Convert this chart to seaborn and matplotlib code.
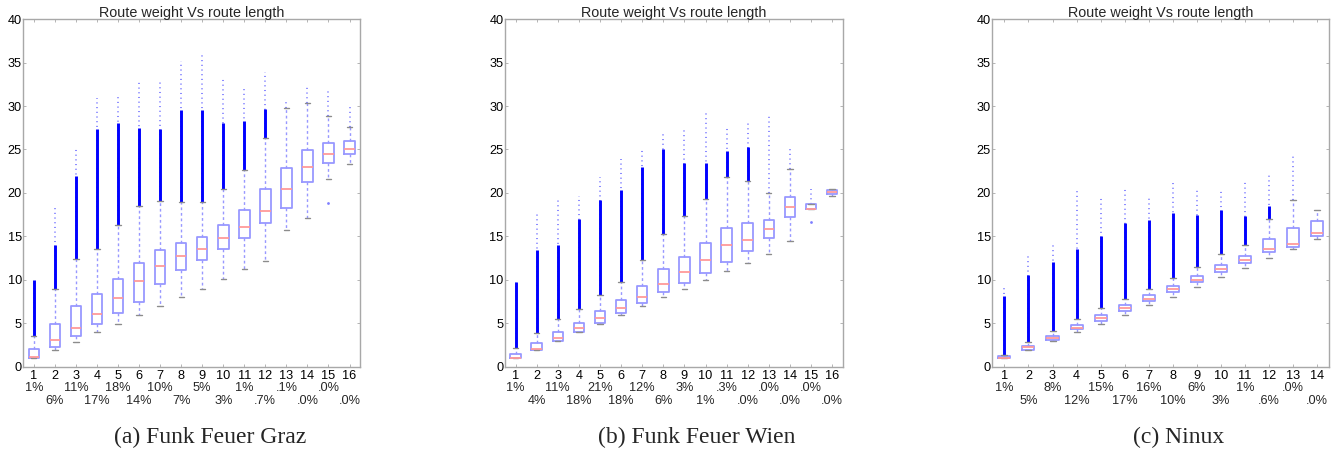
import numpy as np
import pandas as pd
import matplotlib
matplotlib.use("Agg")
import matplotlib.pyplot as plt
import seaborn as sns

# ---------------- data ----------------
# (a) Funk Feuer Graz
graz_pct = ["1%", "6%", "11%", "17%", "18%", "14%", "10%", "7%", "5%", "3%", "1%", ".7%", ".1%", ".0%", ".0%", ".0%"]
graz_whislo = [1.0, 1.9, 2.9, 3.95, 4.9, 5.9, 7.0, 8.0, 9.0, 10.05, 11.2, 12.2, 15.7, 17.1, 21.6, 23.3]
graz_q1 = [1.0, 2.25, 3.5, 4.9, 6.15, 7.45, 9.5, 11.15, 12.25, 13.5, 14.8, 16.5, 18.3, 21.3, 23.4, 24.5]
graz_med = [1.15, 3.05, 4.4, 6.05, 7.9, 9.85, 11.55, 12.7, 13.5, 14.8, 16.1, 17.9, 20.5, 23.0, 24.45, 25.1]
graz_q3 = [2.0, 4.9, 7.0, 8.35, 10.15, 11.9, 13.4, 14.25, 14.9, 16.3, 18.0, 20.4, 22.9, 24.9, 25.7, 26.0]
graz_whishi = [3.5, 8.9, 12.4, 13.6, 16.3, 18.5, 19.1, 18.9, 19.0, 20.5, 22.6, 26.3, 29.75, 30.3, 28.9, 27.6]
graz_dense_top = [10.0, 14.0, 22.0, 27.4, 28.0, 27.5, 27.4, 29.5, 29.5, 28.0, 28.3, 29.6, 29.75, 30.3, 28.9, 27.6]
graz_max = [10.0, 18.4, 25.3, 30.9, 31.2, 32.8, 33.0, 35.2, 36.0, 33.3, 32.1, 33.9, 30.5, 32.3, 31.8, 30.0]
graz_low_x = [15]
graz_low_y = [18.8]

# (b) Funk Feuer Wien
wien_pct = ["1%", "4%", "11%", "18%", "21%", "18%", "12%", "6%", "3%", "1%", ".3%", ".0%", ".0%", ".0%", ".0%", ".0%"]
wien_whislo = [1.0, 1.95, 2.92, 3.95, 4.91, 5.95, 6.99, 7.98, 8.94, 9.98, 11.0, 11.98, 12.97, 14.47, 18.12, 19.6]
wien_q1 = [1.0, 1.95, 2.92, 4.03, 5.07, 6.14, 7.29, 8.56, 9.6, 10.75, 12.1, 13.3, 14.78, 17.27, 18.12, 19.85]
wien_med = [1.02, 2.07, 3.3, 4.41, 5.57, 6.72, 7.98, 9.48, 10.86, 12.25, 14.0, 14.55, 15.8, 18.35, 18.2, 20.1]
wien_q3 = [1.42, 2.69, 3.95, 5.07, 6.37, 7.68, 9.33, 11.2, 12.67, 14.2, 15.93, 16.5, 16.9, 19.5, 18.73, 20.35]
wien_whishi = [2.1, 3.92, 5.45, 6.6, 8.25, 9.79, 12.25, 15.24, 17.4, 19.3, 21.8, 21.35, 20.0, 22.76, 18.73, 20.5]
wien_dense_top = [9.8, 13.4, 14.0, 17.0, 19.2, 20.3, 23.0, 25.0, 23.5, 23.5, 24.8, 25.3, 20.0, 22.76, 18.73, 20.5]
wien_max = [9.8, 17.7, 19.3, 19.6, 21.8, 23.9, 25.0, 26.9, 27.5, 29.4, 27.6, 28.2, 28.8, 25.0, 20.5, 20.5]
wien_low_x = [15]
wien_low_y = [16.6]

# (c) Ninux
ninux_pct = ["1%", "5%", "8%", "12%", "15%", "17%", "16%", "10%", "6%", "3%", "1%", ".6%", ".0%", ".0%"]
ninux_whislo = [1.0, 1.9, 2.92, 3.95, 4.91, 5.91, 7.06, 8.06, 9.14, 10.29, 11.32, 12.48, 13.5, 14.74]
ninux_q1 = [1.0, 1.96, 3.11, 4.3, 5.3, 6.45, 7.52, 8.56, 9.71, 10.86, 11.9, 13.17, 13.82, 15.05]
ninux_med = [1.02, 2.23, 3.34, 4.41, 5.57, 6.72, 7.79, 8.9, 9.98, 11.2, 12.25, 13.59, 14.09, 15.36]
ninux_q3 = [1.23, 2.42, 3.53, 4.76, 5.91, 7.06, 8.21, 9.25, 10.4, 11.67, 12.7, 14.66, 15.93, 16.74]
ninux_whishi = [1.34, 2.88, 4.15, 5.45, 6.72, 7.83, 8.98, 10.25, 11.44, 12.94, 13.97, 17.0, 19.2, 18.0]
ninux_dense_top = [8.1, 10.5, 12.0, 13.5, 15.0, 16.5, 16.9, 17.7, 17.5, 18.0, 17.3, 18.5, 19.2, 18.0]
ninux_max = [9.4, 13.1, 14.2, 20.6, 19.65, 20.6, 19.4, 21.2, 20.3, 20.2, 21.3, 22.3, 24.5, 18.0]
ninux_low_x = []
ninux_low_y = []

titles = ["Route weight Vs route length"] * 3
captions = ["(a) Funk Feuer Graz", "(b) Funk Feuer Wien", "(c) Ninux"]

panels = [
    (graz_pct, graz_whislo, graz_q1, graz_med, graz_q3, graz_whishi, graz_dense_top, graz_max, graz_low_x, graz_low_y),
    (wien_pct, wien_whislo, wien_q1, wien_med, wien_q3, wien_whishi, wien_dense_top, wien_max, wien_low_x, wien_low_y),
    (ninux_pct, ninux_whislo, ninux_q1, ninux_med, ninux_q3, ninux_whishi, ninux_dense_top, ninux_max, ninux_low_x, ninux_low_y),
]

# ---------------- styling ----------------
sns.set_theme(style="white")
plt.rcParams["font.family"] = ["Liberation Sans", "DejaVu Sans"]

box_c = "#9898ff"
med_c = "#ff9a9a"
cap_c = "#8c8c8c"
flier_c = "#0000ff"
spine_c = "#a8a8a8"
tick_fs = 9.2

fig = plt.figure(figsize=(13.41, 4.55), dpi=100)
positions = [
    [0.0174, 0.194, 0.2511, 0.764],
    [0.3766, 0.194, 0.2518, 0.764],
    [0.7400, 0.194, 0.2513, 0.764],
]
cap_x = [210 / 1341, 697 / 1341, 1179 / 1341]

for i, (pct, wlo, q1, med, q3, whi, dtop, vmax, lowx, lowy) in enumerate(panels):
    ax = fig.add_axes(positions[i])
    n = len(pct)
    lengths = [str(k) for k in range(1, n + 1)]
    rows = []
    for k in range(n):
        for v in (wlo[k], q1[k], med[k], q3[k], whi[k]):
            rows.append({"length": lengths[k], "weight": v})
    df = pd.DataFrame(rows)

    xs = np.arange(n)
    # outliers: dense part (solid) and sparse part (dotted)
    ax.vlines(xs, whi, vmax, colors=flier_c, linewidth=1.3, linestyles=(0, (0.6, 2.0)), alpha=0.5, zorder=1)
    ax.vlines(xs, whi, dtop, colors=flier_c, linewidth=2.1, zorder=1)
    if lowx:
        ax.scatter(np.array(lowx) - 1, lowy, s=4, color=flier_c, alpha=0.5, linewidths=0, zorder=1)

    sns.boxplot(
        data=df, x="length", y="weight", order=lengths, ax=ax,
        whis=(0, 100), width=0.5, fill=False, showfliers=False,
        boxprops={"color": box_c, "linewidth": 1.3},
        medianprops={"color": med_c, "linewidth": 1.3},
        whiskerprops={"color": box_c, "linewidth": 1.0, "linestyle": (0, (2, 2))},
        capprops={"color": cap_c, "linewidth": 1.0},
    )

    ax.set_xlim(-0.5, n - 0.5)
    ax.set_ylim(0, 40)
    ax.set_yticks(range(0, 41, 5))
    ax.set_xticks(xs)
    ax.set_xticklabels(lengths, fontsize=tick_fs)
    # percentage rows, staggered below the length numbers
    for k in range(n):
        off = -15.3 if k % 2 == 0 else -24.7
        ax.annotate(pct[k], xy=(k, 0), xycoords=ax.get_xaxis_transform(),
                    xytext=(0, off), textcoords="offset points",
                    ha="center", va="center", fontsize=tick_fs)
    ax.tick_params(axis="y", labelsize=tick_fs, pad=1)
    ax.tick_params(axis="both", direction="in", length=2.5, width=0.6, color=spine_c,
                   top=True, right=True, bottom=True, left=True, labelcolor="black")
    ax.tick_params(axis="x", pad=2)
    ax.set_xlabel("")
    ax.set_ylabel("")
    for s in ax.spines.values():
        s.set_visible(True)
        s.set_color(spine_c)
        s.set_linewidth(1.0)
    ax.set_title(titles[i], fontsize=10.4, pad=1.5)
    fig.text(cap_x[i], 1 - 437 / 455, captions[i], ha="center", va="center",
             fontsize=17, family=["Liberation Serif", "DejaVu Serif"])

fig.savefig("out.png", dpi=100)
